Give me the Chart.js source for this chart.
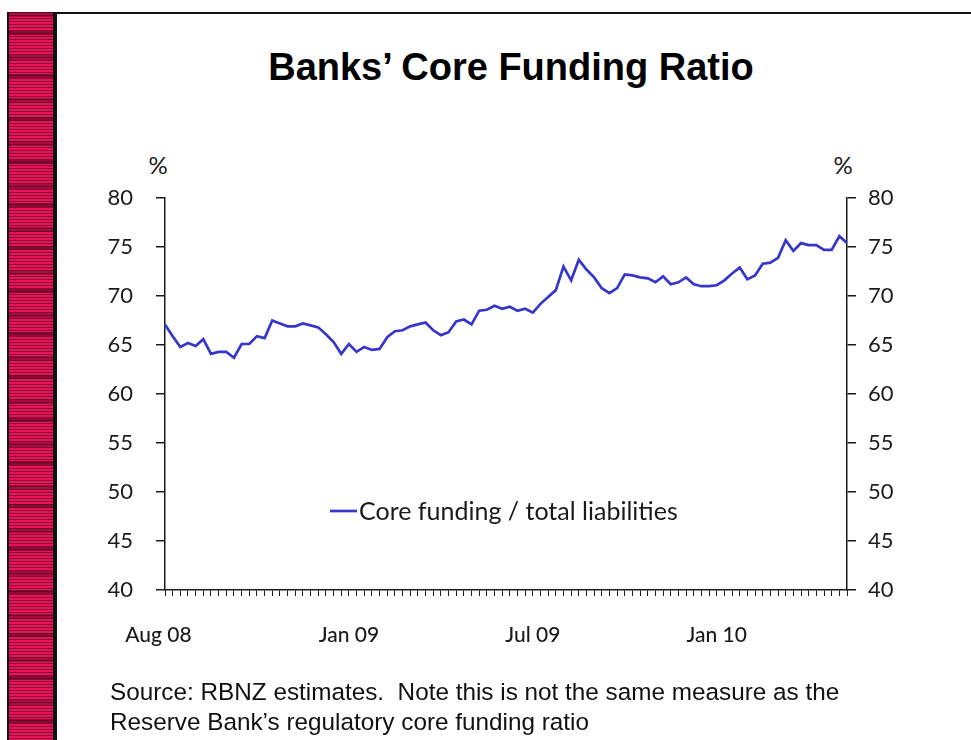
<!DOCTYPE html>
<html>
<head>
<meta charset="utf-8">
<title>Banks' Core Funding Ratio</title>
<script src="https://cdn.jsdelivr.net/npm/chart.js@4.4.1/dist/chart.umd.min.js"></script>
<style>
  html, body { margin: 0; padding: 0; background: #fff; }
  body { width: 971px; height: 740px; position: relative; overflow: hidden; font-family: "Liberation Sans", Arial, sans-serif; }
  #frameTop { position: absolute; left: 7px; top: 12px; right: 0; height: 2px; background: #111; }
  #stripe {
    position: absolute; left: 7px; top: 12px; bottom: 0; width: 44px;
    border-left: 2px solid #111; border-right: 4px solid #111;
    background:
      repeating-linear-gradient(180deg, rgba(50,0,15,0.5) 0 1px, transparent 1px 3px),
      repeating-linear-gradient(180deg, rgba(70,0,25,0.4) 0 5px, transparent 5px 19px, rgba(70,0,25,0.55) 19px 23px, transparent 23px 43px),
      #e8145a;
  }
  #title { position: absolute; left: 161px; width: 700px; top: 46px; text-align: center; font: bold 38px "Liberation Sans", Arial, sans-serif; color: #000; white-space: nowrap; }
  .pct { position: absolute; top: 150px; width: 30px; text-align: center; font: 24px Lato, "Open Sans", sans-serif; color: #1a1a1a; }
  #source { position: absolute; left: 110px; top: 677px; font: 24.3px/30px "Liberation Sans", Arial, sans-serif; color: #111; white-space: nowrap; }
  #chart { position: absolute; left: 0; top: 0; }
</style>
</head>
<body>
<div id="frameTop"></div>
<div id="stripe"></div>
<div id="title">Banks’ Core Funding Ratio</div>
<div class="pct" style="left:143px">%</div>
<div class="pct" style="left:828px">%</div>
<canvas id="chart" width="971" height="740"></canvas>
<div id="source">Source: RBNZ estimates.&nbsp; Note this is not the same measure as the<br>Reserve Bank’s regulatory core funding ratio</div>

<script>
// Weekly core funding / total liabilities (%), August 2008 onwards
const coreFundingRatio = [
  67.1, 65.9, 64.8, 65.2, 64.9, 65.6, 64.1, 64.3, 64.3, 63.7,
  65.1, 65.1, 65.9, 65.7, 67.5, 67.2, 66.9, 66.9, 67.2, 67.0,
  66.8, 66.1, 65.3, 64.1, 65.1, 64.3, 64.8, 64.5, 64.6, 65.8,
  66.4, 66.5, 66.9, 67.1, 67.3, 66.5, 66.0, 66.3, 67.4, 67.6,
  67.1, 68.5, 68.6, 69.0, 68.7, 68.9, 68.5, 68.7, 68.3, 69.2,
  69.9, 70.6, 73.0, 71.6, 73.7, 72.7, 71.9, 70.8, 70.3, 70.8,
  72.2, 72.1, 71.9, 71.8, 71.4, 72.0, 71.2, 71.4, 71.9, 71.2,
  71.0, 71.0, 71.1, 71.6, 72.3, 72.9, 71.7, 72.1, 73.3, 73.4,
  73.9, 75.7, 74.6, 75.4, 75.2, 75.2, 74.7, 74.7, 76.1, 75.4
];
const seriesName = 'Core funding / total liabilities';

// Category axis: one slot per weekly observation, labelled every 24 weeks
const weekIndex = coreFundingRatio.map((_, i) => i);
const xTickLabels = ['Aug 08\u2002\u2009', 'Jan 09', 'Jul 09', 'Jan 10'];
const xLabelEvery = 24;

// Percentage axis
const yMin = 40, yMax = 80, yStep = 5;

const lineColor = '#3636c9';
const axisColor = '#1a1a1a';
const tickFont = { family: 'Lato, "Open Sans", sans-serif', size: 22 };

// Legend drawn inside the plot area
const innerLegend = {
  id: 'innerLegend',
  afterDatasetsDraw(chart) {
    const { ctx, chartArea } = chart;
    const ds = chart.data.datasets[0];
    const x = chartArea.left + 165;
    const y = chartArea.top + 313;
    ctx.save();
    ctx.strokeStyle = ds.borderColor;
    ctx.lineWidth = ds.borderWidth;
    ctx.beginPath();
    ctx.moveTo(x, y);
    ctx.lineTo(x + 27, y);
    ctx.stroke();
    ctx.fillStyle = axisColor;
    ctx.font = '25px Lato, "Open Sans", sans-serif';
    ctx.textBaseline = 'middle';
    ctx.textAlign = 'left';
    ctx.fillText(ds.label, x + 29, y + 1);
    ctx.restore();
  }
};

const yAxis = (position, width, pad) => ({
  position,
  min: yMin,
  max: yMax,
  ticks: { stepSize: yStep, padding: pad, font: tickFont, color: axisColor },
  grid: { drawOnChartArea: false, drawTicks: true, tickLength: 9, color: axisColor, lineWidth: 1.5 },
  border: { display: true, color: axisColor, width: 1.5 },
  afterFit(scale) { scale.width = width; }
});

new Chart(document.getElementById('chart'), {
  type: 'line',
  data: {
    labels: weekIndex,
    datasets: [{
      label: seriesName,
      data: coreFundingRatio,
      borderColor: lineColor,
      borderWidth: 2.7,
      pointRadius: 0,
      tension: 0,
      yAxisID: 'y'
    }]
  },
  options: {
    responsive: false,
    animation: false,
    layout: { padding: { left: 0, right: 0, top: 198, bottom: 90 } },
    plugins: { legend: { display: false }, title: { display: false }, tooltip: { enabled: false } },
    scales: {
      x: {
        type: 'category',
        offset: false,
        ticks: {
          autoSkip: false, maxRotation: 0, padding: 27,
          font: { family: 'Lato, "Open Sans", sans-serif', size: 21, weight: '500' }, color: axisColor,
          callback: (v, i) => (i % xLabelEvery === 0 ? xTickLabels[i / xLabelEvery] || '' : '')
        },
        grid: { drawOnChartArea: false, drawTicks: true, tickLength: 6, color: axisColor, lineWidth: 1 },
        border: { display: true, color: axisColor, width: 1.5 },
        afterFit(scale) { scale.height = 60; }
      },
      y: yAxis('left', 165, 23),
      y2: yAxis('right', 124, 12)
    }
  },
  plugins: [innerLegend]
});
</script>
</body>
</html>
